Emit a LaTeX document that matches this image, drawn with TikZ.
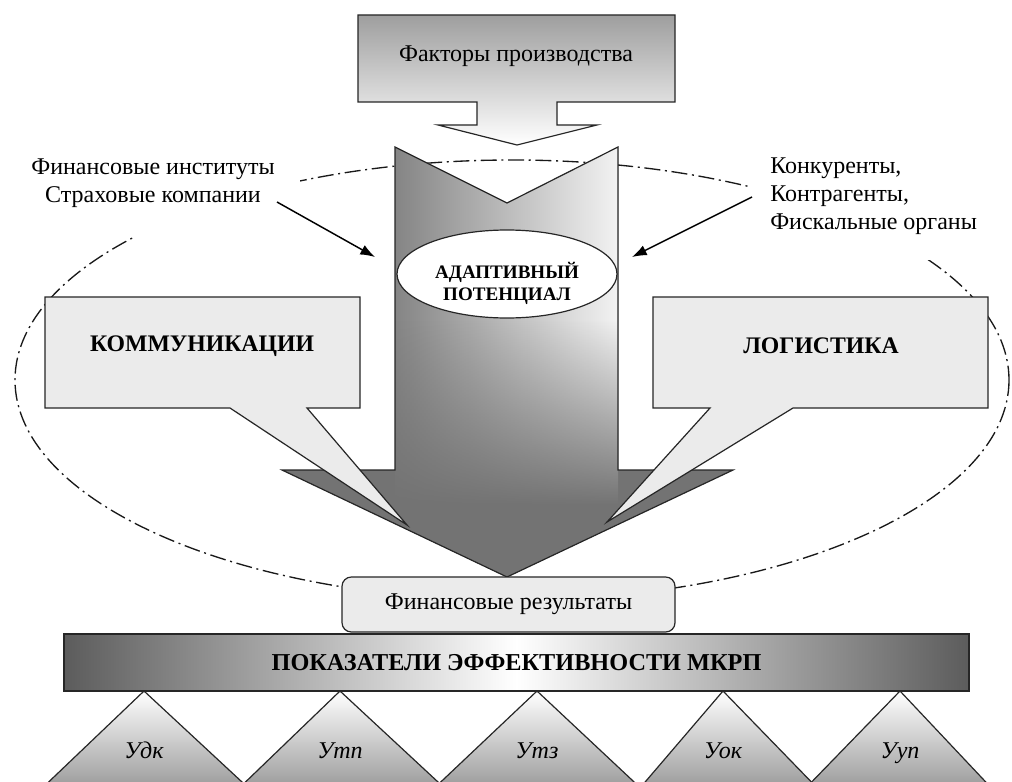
\documentclass[tikz,border=0pt]{standalone}
\usepackage{fontspec}
\setmainfont{Liberation Serif}
\usetikzlibrary{arrows.meta,fadings,shapes.geometric}
\tikzfading[name=darkbottom, top color=transparent!100, bottom color=transparent!0]
\begin{document}
\begin{tikzpicture}[x=0.75pt,y=-0.75pt,
  outl/.style={draw=black!85, line width=0.9pt, line join=miter},
  txt/.style={font=\fontsize{18}{21}\selectfont, inner sep=0pt},
  btxt/.style={font=\bfseries\fontsize{17.8}{21}\selectfont, inner sep=0pt},
  itxt/.style={font=\itshape\fontsize{18}{21}\selectfont, inner sep=0pt, anchor=base},
  dashdot/.style={draw=black!90, line width=1pt, dash pattern=on 12pt off 3.5pt on 1.5pt off 3.5pt},
  conn/.style={line width=1.1pt, -{Latex[length=11pt,width=8pt]}},
  tri/.style={outl, top color=white, bottom color=black!42},
  callfill/.style={outl, fill=black!8}]
\useasboundingbox (0,0) rectangle (1012,781);
\clip (0,0) rectangle (1012,781);
\fill[white] (0,0) rectangle (1012,781);

% dash-dot environment ellipse
\draw[dashdot] (512,380) ellipse [x radius=497, y radius=220];

% side labels (white background hides the ellipse behind them)
\node[txt, fill=white, align=center, inner xsep=19pt, inner ysep=22pt] (fininst) at (153,183) {Финансовые институты\\Страховые компании};
\node[txt, fill=white, align=left, anchor=west, inner xsep=15pt, inner ysep=19pt] (konk) at (750,196) {Конкуренты,\\Контрагенты,\\Фискальные органы};

% top callout: factors of production
\path[outl, top color=black!38, bottom color=white] (358,15) -- (675,15) -- (675,102) -- (557,102) -- (557,125) -- (597,125) -- (517,145) -- (438,125) -- (477,125) -- (477,102) -- (358,102) -- cycle;
\node[txt] (factors) at (516,56) {Факторы производства};

% big central arrow
\begin{scope}
\clip (395,147) -- (507,203) -- (618,147) -- (618,470) -- (733,470) -- (507,577) -- (282,470) -- (395,470) -- cycle;
\fill[black!55] (280,140) rectangle (735,580);
\fill[left color=black!48, right color=black!5] (395,140) rectangle (618,580);
\fill[black!55, path fading=darkbottom] (280,320) rectangle (735,505);
\fill[black!55] (280,504) rectangle (735,580);
\end{scope}
\draw[outl] (395,147) -- (507,203) -- (618,147) -- (618,470) -- (733,470) -- (507,577) -- (282,470) -- (395,470) -- cycle;

% side callouts
\path[callfill] (45,297) -- (360,297) -- (360,408) -- (307,408) -- (407,525) -- (230,408) -- (45,408) -- cycle;
\node[btxt] (komm) at (202,346) {КОММУНИКАЦИИ};
\path[callfill] (653,297) -- (988,297) -- (988,408) -- (793,408) -- (607,522) -- (710,408) -- (653,408) -- cycle;
\node[btxt] (logist) at (821,346) {ЛОГИСТИКА};

% adaptive potential
\node[ellipse, draw=black!85, line width=0.9pt, fill=white, minimum width=165pt, minimum height=66pt, inner sep=0pt] (adapt) at (507,274) {};
\node[font=\bfseries\fontsize{14.3}{16.5}\selectfont, align=center, inner sep=0pt] (adapttxt) at (507,283) {АДАПТИВНЫЙ\\ПОТЕНЦИАЛ};

% financial results
\node[outl, rounded corners=7pt, fill=black!8, minimum width=249.75pt, minimum height=41.25pt, inner sep=0pt, font=\fontsize{18}{21}\selectfont] (finres) at (508.5,604.5) {Финансовые результаты};

% indicators bar
\node[outl, left color=black!64, right color=black!64, middle color=white, minimum width=678.75pt, minimum height=42.75pt, inner sep=0pt, font=\bfseries\fontsize{18.2}{21}\selectfont] (bar) at (516.5,662.5) {ПОКАЗАТЕЛИ ЭФФЕКТИВНОСТИ МКРП};

% triangles
\path[tri] (144,691) -- (256,795) -- (35,795) -- cycle;
\path[tri] (340,691) -- (452,795) -- (232,795) -- cycle;
\path[tri] (537,691) -- (648,795) -- (427,795) -- cycle;
\path[tri] (723,691) -- (824,795) -- (634,795) -- cycle;
\path[tri] (900,691) -- (998,795) -- (799,795) -- cycle;
\node[itxt] (u1) at (144,758) {Удк};
\node[itxt] (u2) at (340,758) {Утп};
\node[itxt] (u3) at (537,758) {Утз};
\node[itxt] (u4) at (723,758) {Уок};
\node[itxt] (u5) at (900,758) {Ууп};

% influence arrows
\coordinate (a1s) at (277,202); \coordinate (a1e) at (375,257);
\coordinate (a2s) at (752,197); \coordinate (a2e) at (632,257);
\draw[conn] (a1s) -- (a1e);
\draw[conn] (a2s) -- (a2e);
\end{tikzpicture}
\end{document}
